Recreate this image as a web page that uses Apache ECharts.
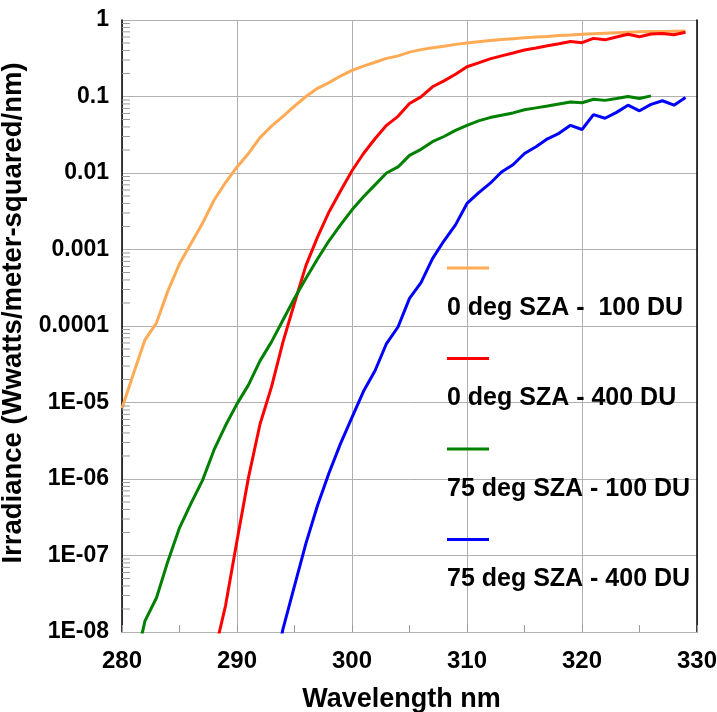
<!DOCTYPE html>
<html>
<head>
<meta charset="utf-8">
<script src="https://cdn.jsdelivr.net/npm/echarts@6/dist/echarts.min.js"></script>
<style>
  html, body { margin: 0; padding: 0; background: #fff; }
  #chart { width: 717px; height: 712px; }
</style>
</head>
<body>
<div id="chart"></div>
<script>
  // wavelength in nm, one point per nm
  var wavelengths = [280, 281, 282, 283, 284, 285, 286, 287, 288, 289,
    290, 291, 292, 293, 294, 295, 296, 297, 298, 299,
    300, 301, 302, 303, 304, 305, 306, 307, 308, 309,
    310, 311, 312, 313, 314, 315, 316, 317, 318, 319,
    320, 321, 322, 323, 324, 325, 326, 327, 328, 329]

  var seriesNames = ['0 deg SZA -  100 DU', '0 deg SZA - 400 DU', '75 deg SZA - 100 DU', '75 deg SZA - 400 DU']
  var seriesColors = ['#FFAA55', '#FF0000', '#008000', '#0000FF']

  var sza0du100 = [8.4e-6, 2.4e-5, 6.6e-5, 1.1e-4, 2.9e-4, 6.5e-4, 1.2e-3, 2.2e-3, 4.4e-3, 7.5e-3,
    0.012, 0.018, 0.029, 0.041, 0.055, 0.075, 0.1, 0.128, 0.152, 0.185,
    0.22, 0.25, 0.28, 0.315, 0.34, 0.38, 0.41, 0.435, 0.455, 0.48,
    0.5, 0.52, 0.54, 0.555, 0.57, 0.585, 0.6, 0.61, 0.625, 0.635,
    0.65, 0.66, 0.67, 0.68, 0.69, 0.7, 0.705, 0.71, 0.715, 0.72]

  var sza0du400 = [null, null, null, null, null, null, null, null, 5e-9, 2.2e-8,
    1.56e-7, 1.05e-6, 5.2e-6, 1.6e-5, 6.2e-5, 2.0e-4, 6.2e-4, 1.45e-3, 3.1e-3, 5.8e-3,
    0.0107, 0.018, 0.028, 0.042, 0.055, 0.081, 0.099, 0.134, 0.16, 0.195,
    0.245, 0.275, 0.31, 0.34, 0.37, 0.405, 0.43, 0.46, 0.49, 0.525,
    0.505, 0.575, 0.55, 0.6, 0.65, 0.605, 0.655, 0.665, 0.64, 0.69]

  var sza75du100 = [null, 3e-9, 1.4e-8, 2.8e-8, 8.5e-8, 2.3e-7, 4.8e-7, 9.6e-7, 2.4e-6, 5e-6,
    9.6e-6, 1.7e-5, 3.5e-5, 6.2e-5, 1.2e-4, 2.3e-4, 4.2e-4, 7.5e-4, 1.3e-3, 2.1e-3,
    3.3e-3, 4.9e-3, 7e-3, 0.01, 0.012, 0.017, 0.0204, 0.0257, 0.03, 0.036,
    0.042, 0.048, 0.053, 0.057, 0.061, 0.067, 0.071, 0.075, 0.08, 0.085,
    0.083, 0.092, 0.089, 0.094, 0.1, 0.094, 0.102, null, null, null]

  var sza75du400 = [null, null, null, null, null, null, null, null, null, null,
    null, null, null, 2e-9, 1.1e-8, 4e-8, 1.45e-7, 4.5e-7, 1.2e-6, 2.9e-6,
    6.4e-6, 1.4e-5, 2.6e-5, 5.9e-5, 9.7e-5, 2.3e-4, 3.7e-4, 7.6e-4, 1.3e-3, 2.1e-3,
    4e-3, 5.5e-3, 7.3e-3, 0.0103, 0.0128, 0.018, 0.022, 0.028, 0.033, 0.042,
    0.037, 0.058, 0.052, 0.062, 0.077, 0.065, 0.079, 0.088, 0.077, 0.097]

  var yTickLabels = ['1E-08', '1E-07', '1E-06', '1E-05', '0.0001', '0.001', '0.01', '0.1', '1']
  var xTickLabels = ['280', '290', '300', '310', '320', '330']

  var font = 'Liberation Sans, Arial, sans-serif'
  var allSeries = [sza0du100, sza0du400, sza75du100, sza75du400]

  // minor ticks of the log axis: 2..9 in every decade
  var minorTicks = []
  for (var e = -8; e < 0; e++) {
    for (var k = 2; k <= 9; k++) {
      minorTicks.push([280, k * Math.pow(10, e)])
    }
  }

  var chart = echarts.init(document.getElementById('chart'))

  var rich = {
    t: { fontSize: 25, fontWeight: 'bold', fontFamily: font, color: '#000', lineHeight: 30 }
  }
  seriesColors.forEach(function(c, i) {
    rich['l' + i] = { width: 42, height: 3, backgroundColor: c, lineHeight: 50 }
  })

  var lineSeries = allSeries.map(function(vals, i) {
    return {
      name: seriesNames[i],
      type: 'line',
      showSymbol: false,
      connectNulls: false,
      lineStyle: { width: 3, color: seriesColors[i] },
      itemStyle: { color: seriesColors[i] },
      data: wavelengths.map(function(w, j) { return [w, vals[j]] }).filter(function(p) { return p[1] != null })
    }
  })

  lineSeries.push({
    name: 'minorTicks',
    type: 'custom',
    silent: true,
    clip: false,
    z: 5,
    data: minorTicks,
    encode: { x: 0, y: 1 },
    renderItem: function(params, api) {
      var p = api.coord([api.value(0), api.value(1)])
      return {
        type: 'line',
        shape: { x1: p[0], y1: p[1], x2: p[0] + 8, y2: p[1] },
        style: { stroke: '#9a9a9a', lineWidth: 1 }
      }
    }
  })

  chart.setOption({
    animation: false,
    grid: { left: 122, right: 20, top: 20, bottom: 80, outerBoundsMode: 'none' },
    legend: {
      data: seriesNames,
      orient: 'vertical',
      left: 441,
      top: 262,
      padding: 0,
      itemGap: 32,
      itemWidth: 1,
      itemHeight: 1,
      icon: 'rect',
      itemStyle: { opacity: 0 },
      selectedMode: false,
      formatter: function(name) {
        return '{l' + seriesNames.indexOf(name) + '|}\n{t|' + name + '}'
      },
      textStyle: { rich: rich }
    },
    xAxis: {
      type: 'value',
      min: 280,
      max: 330,
      interval: 10,
      name: 'Wavelength nm',
      nameLocation: 'middle',
      nameGap: 54,
      nameTextStyle: { fontSize: 27, fontWeight: 'bold', fontFamily: font, color: '#000', padding: [0, 16, 0, 0] },
      axisLine: { lineStyle: { color: '#b0b0b0', width: 1 } },
      axisTick: { inside: true, length: 7, lineStyle: { color: '#9a9a9a' } },
      minorTick: { show: true, splitNumber: 2, length: 7, lineStyle: { color: '#9a9a9a' } },
      axisLabel: {
        margin: 17,
        fontSize: 24,
        fontWeight: 'bold',
        fontFamily: font,
        color: '#000',
        formatter: function(v) { return xTickLabels[Math.round((v - 280) / 10)] }
      },
      splitLine: { show: true, lineStyle: { color: '#b0b0b0', width: 1 } }
    },
    yAxis: [
      {
        type: 'log',
        logBase: 10,
        min: 1e-8,
        max: 1,
        splitNumber: 8,
        name: 'Irradiance (Wwatts/meter-squared/nm)',
        nameLocation: 'middle',
        nameGap: 80,
        nameTextStyle: { fontSize: 27.5, fontWeight: 'bold', fontFamily: font, color: '#000', padding: [0, 0, 0, 26] },
        axisLine: { show: true, lineStyle: { color: '#000', width: 1.5 } },
        axisTick: { show: false },
        axisLabel: {
          margin: 13,
          fontSize: 23,
          fontWeight: 'bold',
          fontFamily: font,
          color: '#000',
          formatter: function(v) { return yTickLabels[Math.round(Math.log10(v)) + 8] }
        },
        splitLine: { show: true, lineStyle: { color: '#b0b0b0', width: 1 } }
      },
      {
        type: 'log',
        logBase: 10,
        min: 1e-8,
        max: 1,
        position: 'right',
        axisLine: { show: true, lineStyle: { color: '#000', width: 1.5 } },
        axisTick: { show: false },
        axisLabel: { show: false },
        splitLine: { show: false }
      }
    ],
    series: lineSeries
  })
</script>
</body>
</html>
